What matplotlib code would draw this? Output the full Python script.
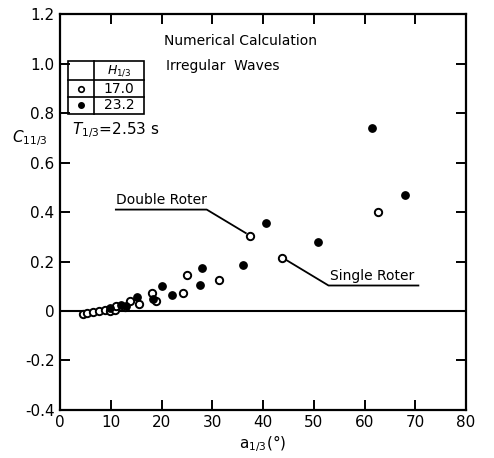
import matplotlib.pyplot as plt
from matplotlib.patches import Rectangle

# Open circles: H1/3 = 17.0
open_x = [4.5, 5.4, 6.5, 7.6, 8.8, 9.9, 10.8, 11.0, 12.8, 13.8, 15.6, 18.1, 18.9,
          24.2, 25.1, 31.4, 37.4, 43.7, 62.6]
open_y = [-0.012, -0.008, -0.004, 0.0, 0.005, 0.0, 0.004, 0.02, 0.015, 0.04, 0.027,
          0.074, 0.042, 0.074, 0.146, 0.124, 0.305, 0.215, 0.40]

# Filled circles: H1/3 = 23.2
filled_x = [9.9, 12.0, 13.0, 15.2, 18.4, 20.0, 22.1, 27.6, 27.9, 36.0, 40.6, 50.9, 61.4, 68.0]
filled_y = [0.012, 0.025, 0.02, 0.055, 0.05, 0.10, 0.065, 0.105, 0.175, 0.185, 0.355,
            0.28, 0.74, 0.47]

x_ticks = [0, 10, 20, 30, 40, 50, 60, 70, 80]
y_ticks = [-0.4, -0.2, 0, 0.2, 0.4, 0.6, 0.8, 1.0, 1.2]
y_tick_labels = ["-0.4", "-0.2", "0", "0.2", "0.4", "0.6", "0.8", "1.0", "1.2"]

fig = plt.figure(figsize=(4.94, 4.58), dpi=100)
ax = fig.add_axes([0.1215, 0.105, 0.822, 0.864])

ax.axhline(0, color="black", lw=1.5, zorder=1)

ax.scatter(open_x, open_y, s=28, facecolors="white", edgecolors="black", linewidths=1.4, zorder=3)
ax.scatter(filled_x, filled_y, s=28, color="black", zorder=3)

ax.set_xlim(0, 80)
ax.set_ylim(-0.4, 1.2)
ax.set_xticks(x_ticks)
ax.set_yticks(y_ticks)
ax.set_yticklabels(y_tick_labels)
ax.tick_params(direction="in", length=7, width=1.4, top=True, right=True,
               labelsize=11, pad=4)
for sp in ax.spines.values():
    sp.set_linewidth(1.6)

ax.set_xlabel("a$_{1/3}$(°)", fontsize=11, labelpad=2)
ax.text(-6.0, 0.70, "$C_{11/3}$", fontsize=11, ha="center", va="center", clip_on=False)

# header texts
ax.text(35.5, 1.09, "Numerical Calculation", fontsize=10, ha="center", va="center")
ax.text(32.0, 0.99, "Irregular  Waves", fontsize=10, ha="center", va="center")

# legend table
x0, x1, xm = 1.6, 16.6, 6.6
rows = [1.01, 0.933, 0.866, 0.796]
ax.add_patch(Rectangle((x0, rows[-1]), x1 - x0, rows[0] - rows[-1], fill=False, lw=1.2, zorder=4))
ax.plot([xm, xm], [rows[0], rows[-1]], color="black", lw=1.2)
for r in rows[1:3]:
    ax.plot([x0, x1], [r, r], color="black", lw=1.2)
ax.text((xm + x1) / 2, (rows[0] + rows[1]) / 2, "$H_{1/3}$", fontsize=9, ha="center", va="center")
ax.text((xm + x1) / 2, (rows[1] + rows[2]) / 2, "17.0", fontsize=10, ha="center", va="center")
ax.text((xm + x1) / 2, (rows[2] + rows[3]) / 2, "23.2", fontsize=10, ha="center", va="center")
ax.scatter([(x0 + xm) / 2], [(rows[1] + rows[2]) / 2], s=16, facecolors="white",
           edgecolors="black", linewidths=1.2, zorder=5)
ax.scatter([(x0 + xm) / 2], [(rows[2] + rows[3]) / 2], s=16, color="black", zorder=5)

ax.text(2.3, 0.73, "$T_{1/3}$=2.53 s", fontsize=11, ha="left", va="center")

# annotations
ax.text(11.0, 0.42, "Double Roter", fontsize=10, ha="left", va="bottom")
ax.plot([11.0, 28.9, 36.6], [0.41, 0.41, 0.315], color="black", lw=1.3)

ax.text(53.2, 0.115, "Single Roter", fontsize=10, ha="left", va="bottom")
ax.plot([44.5, 52.9, 70.6], [0.207, 0.103, 0.103], color="black", lw=1.3)

fig.savefig("out.png", dpi=100)
